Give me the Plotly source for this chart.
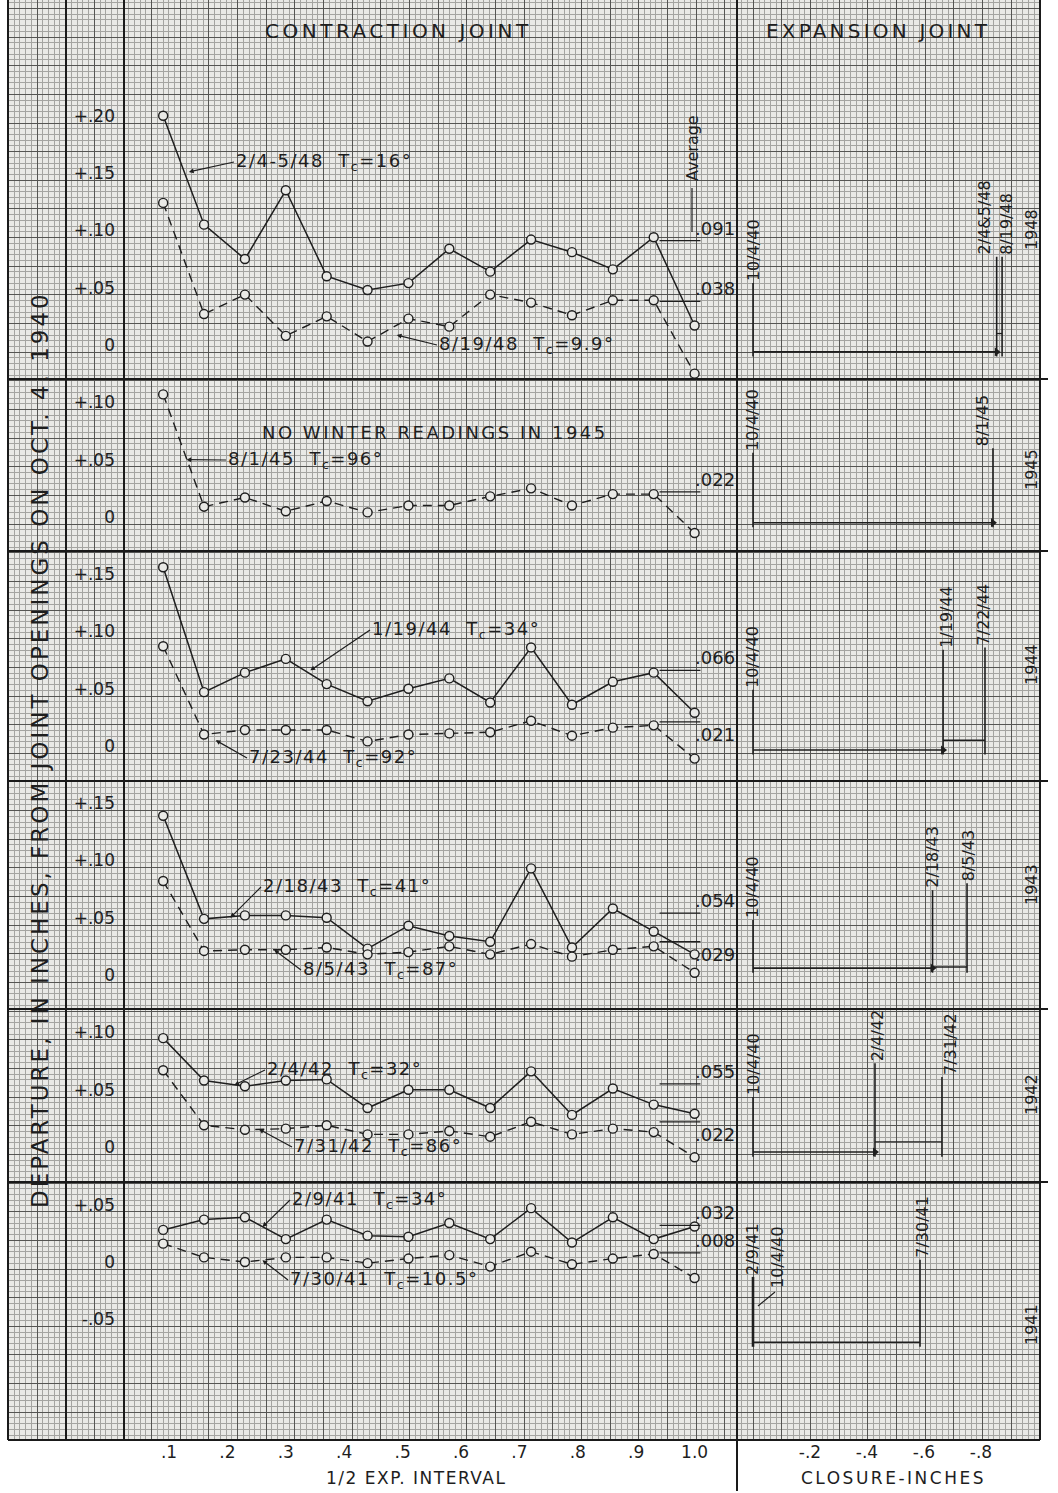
import plotly.graph_objects as go

W, H = 1058, 1493

# ---------------- data ----------------
# joint positions along half the expansion interval
positions = [0.09, 0.16, 0.23, 0.30, 0.37, 0.44, 0.51, 0.58, 0.65, 0.72, 0.79, 0.86, 0.93, 1.00]

years = ["1948", "1945", "1944", "1943", "1942", "1941"]

# winter readings (solid lines), departure in inches
winter_dates = ["2/4-5/48", None, "1/19/44", "2/18/43", "2/4/42", "2/9/41"]
winter_tc = ["16°", None, "34°", "41°", "32°", "34°"]
winter_1948 = [0.200, 0.105, 0.075, 0.135, 0.060, 0.048, 0.054, 0.084, 0.064, 0.092, 0.081, 0.066, 0.094, 0.017]
winter_1944 = [0.156, 0.047, 0.064, 0.076, 0.054, 0.039, 0.050, 0.059, 0.038, 0.086, 0.036, 0.056, 0.064, 0.029]
winter_1943 = [0.139, 0.049, 0.052, 0.052, 0.050, 0.023, 0.043, 0.034, 0.029, 0.093, 0.024, 0.058, 0.038, 0.018]
winter_1942 = [0.095, 0.058, 0.053, 0.058, 0.059, 0.034, 0.050, 0.050, 0.034, 0.066, 0.028, 0.051, 0.037, 0.029]
winter_1941 = [0.028, 0.037, 0.039, 0.020, 0.037, 0.023, 0.022, 0.034, 0.020, 0.047, 0.017, 0.039, 0.020, 0.031]

# summer readings (dashed lines)
summer_dates = ["8/19/48", "8/1/45", "7/23/44", "8/5/43", "7/31/42", "7/30/41"]
summer_tc = ["9.9°", "96°", "92°", "87°", "86°", "10.5°"]
summer_1948 = [0.124, 0.027, 0.044, 0.008, 0.025, 0.003, 0.023, 0.016, 0.044, 0.037, 0.026, 0.039, 0.039, -0.025]
summer_1945 = [0.107, 0.009, 0.017, 0.005, 0.014, 0.004, 0.010, 0.010, 0.018, 0.025, 0.010, 0.020, 0.020, -0.014]
summer_1944 = [0.087, 0.010, 0.014, 0.014, 0.014, 0.004, 0.010, 0.011, 0.012, 0.022, 0.009, 0.016, 0.018, -0.011]
summer_1943 = [0.082, 0.021, 0.022, 0.022, 0.024, 0.018, 0.020, 0.025, 0.018, 0.027, 0.016, 0.022, 0.025, 0.002]
summer_1942 = [0.067, 0.019, 0.015, 0.016, 0.019, 0.011, 0.011, 0.014, 0.009, 0.022, 0.011, 0.016, 0.013, -0.009]
summer_1941 = [0.016, 0.004, 0.000, 0.004, 0.004, -0.001, 0.003, 0.006, -0.004, 0.009, -0.002, 0.003, 0.007, -0.014]

winter_series = [winter_1948, None, winter_1944, winter_1943, winter_1942, winter_1941]
summer_series = [summer_1948, summer_1945, summer_1944, summer_1943, summer_1942, summer_1941]

winter_avg = [0.091, None, 0.066, 0.054, 0.055, 0.032]
summer_avg = [0.038, 0.022, 0.021, 0.029, 0.022, 0.008]

# expansion joint closure (inches) relative to 10/4/40
exp_winter_dates = ["2/4&5/48", None, "1/19/44", "2/18/43", "2/4/42", "2/9/41"]
exp_winter_closure = [-0.855, None, -0.667, -0.630, -0.428, 0.0]
exp_summer_dates = ["8/19/48", "8/1/45", "7/22/44", "8/5/43", "7/31/42", "7/30/41"]
exp_summer_closure = [-0.874, -0.842, -0.814, -0.751, -0.663, -0.586]

contraction_ticks = [0.1, 0.2, 0.3, 0.4, 0.5, 0.6, 0.7, 0.8, 0.9, 1.0]
contraction_tick_text = [".1", ".2", ".3", ".4", ".5", ".6", ".7", ".8", ".9", "1.0"]
closure_ticks = [-0.2, -0.4, -0.6, -0.8]
closure_tick_text = ["-.2", "-.4", "-.6", "-.8"]
closure_end_tick = -1.0
closure_end_text = "-1.0"

panel_yticks = [
    [0, 0.05, 0.10, 0.15, 0.20],
    [0, 0.05, 0.10],
    [0, 0.05, 0.10, 0.15],
    [0, 0.05, 0.10, 0.15],
    [0, 0.05, 0.10],
    [-0.05, 0, 0.05],
]
panel_ytick_text = [
    ["0", "+.05", "+.10", "+.15", "+.20"],
    ["0", "+.05", "+.10"],
    ["0", "+.05", "+.10", "+.15"],
    ["0", "+.05", "+.10", "+.15"],
    ["0", "+.05", "+.10"],
    ["-.05", "0", "+.05"],
]

# ---------------- layout geometry (pixels) ----------------
PANEL_TOP = [0, 379, 551, 781, 1009, 1182]
PANEL_BOT = [379, 551, 781, 1009, 1182, 1440]
PANEL_ZERO = [345, 517, 746, 975, 1147, 1262]
PX_PER_IN_Y = 1146.0

CX0, CX1, CX_ZERO, CX_SCALE = 116, 737, 110.6, 584.0
EX0, EX1, EX_ZERO, EX_SCALE = 737, 1040, 753, 285.0

GRID_X0, GRID_X1, GRID_Y1 = 8, 1040, 1440

INK = "#1e1e1e"
PAPER = "#e9e9e6"
FONT = "DejaVu Sans"


def pxf(x):
    return x / W


def pyf(y):
    return 1 - y / H


def cx(px):
    return (px - CX_ZERO) / CX_SCALE


def ex(px):
    return (EX_ZERO - px) / EX_SCALE


def py(i, px):
    return (PANEL_ZERO[i] - px) / PX_PER_IN_Y


def spaced(text, px):
    return f'<span style="letter-spacing:{px}px">{text}</span>'


# expansion schematic levels, per panel, in panel units
EXP_BASE = [-0.006, -0.005, -0.0035, 0.006, -0.0044, -0.070]
EXP_REF_TOP = [0.054, 0.056, 0.049, 0.048, 0.0436, -0.013]
EXP_WINTER_TOP = [0.077, None, 0.084, 0.074, 0.073, -0.013]
EXP_SUMMER_TOP = [0.077, 0.060, 0.086, 0.080, 0.061, 0.002]
EXP_STEP = [0.010, None, 0.005, 0.007, 0.0044, None]
EXP_WINTER_SHIFT = [-12, 0, 4, 0, 2, 0]
EXP_SUMMER_SHIFT = [5, -11, -2, 1, 8, 3]
YEAR_LABEL_Y = [230, 470, 665, 885, 1095, 1325]

# series label placement: (tail px x, tail px y, head x, head y)
WINTER_LABEL = [(234, 162, 0.134, 0.151), None, (370, 630, 0.342, 0.066),
                (261, 887, 0.205, 0.050), (265, 1070, 0.212, 0.054), (290, 1200, 0.26, 0.0306)]
SUMMER_LABEL = [(437, 345, 0.49, 0.0087), (226, 460, 0.13, 0.050), (247, 758, 0.18, 0.005),
                (301, 970, 0.28, 0.022), (292, 1147, 0.254, 0.0155), (288, 1280, 0.26, 0.0016)]
AVG_W_SIDE = ["bottom", None, "bottom", "bottom", "bottom", "bottom"]
AVG_S_SIDE = ["bottom", "bottom", "top", "top", "top", "bottom"]

fig = go.Figure()

# graph-paper background subplot
fig.add_trace(go.Scatter(x=[None], y=[None], xaxis="x", yaxis="y", showlegend=False, hoverinfo="skip"))

grid_axis = dict(showticklabels=False, ticks="", zeroline=False, showgrid=True, gridcolor="#555553",
                 gridwidth=1, tick0=8.4, dtick=28.65, fixedrange=True,
                 minor=dict(tick0=8.4, dtick=5.73, showgrid=True, gridcolor="#a4a4a1", gridwidth=1))

layout = dict(
    width=W, height=H, margin=dict(l=0, r=0, t=0, b=0), autosize=False,
    paper_bgcolor="white", plot_bgcolor="rgba(0,0,0,0)", showlegend=False,
    font=dict(family=FONT, color=INK, size=17),
    xaxis=dict(domain=[pxf(GRID_X0), pxf(GRID_X1)], range=[GRID_X0, GRID_X1], **grid_axis),
    yaxis=dict(domain=[pyf(GRID_Y1), 1], range=[GRID_Y1, 0], **grid_axis),
)

annotations = []
shapes = [dict(type="rect", xref="paper", yref="paper", x0=pxf(GRID_X0), x1=pxf(GRID_X1),
               y0=pyf(GRID_Y1), y1=1, fillcolor=PAPER, line=dict(width=0), layer="below")]

line_style = dict(color=INK, width=1.5)
marker_style = dict(symbol="circle", size=9, color=PAPER, line=dict(color=INK, width=1.4))
label_font = dict(family=FONT, size=18, color=INK)
tick_font = dict(family=FONT, size=17, color=INK)

for i in range(6):
    xc, xe, ya = f"x{2 * i + 2}", f"x{2 * i + 3}", f"y{i + 2}"
    last = i == 5
    layout[f"yaxis{i + 2}"] = dict(
        domain=[pyf(PANEL_BOT[i]), pyf(PANEL_TOP[i])],
        range=[py(i, PANEL_BOT[i]), py(i, PANEL_TOP[i])],
        anchor=xc, tickvals=panel_yticks[i], ticktext=panel_ytick_text[i],
        showgrid=False, zeroline=False, showline=False, ticks="",
        tickfont=tick_font, fixedrange=True)
    layout[f"xaxis{2 * i + 2}"] = dict(
        domain=[pxf(CX0), pxf(CX1)], range=[cx(CX0), cx(CX1)], anchor=ya,
        showgrid=False, zeroline=False, showline=False, ticks="",
        showticklabels=last, tickvals=contraction_ticks, ticktext=contraction_tick_text,
        tickfont=tick_font, fixedrange=True)
    layout[f"xaxis{2 * i + 3}"] = dict(
        domain=[pxf(EX0), pxf(EX1)], range=[ex(EX0), ex(EX1)], anchor=ya,
        showgrid=False, zeroline=False, showline=False, ticks="",
        showticklabels=last, tickvals=closure_ticks, ticktext=closure_tick_text,
        tickfont=tick_font, fixedrange=True)

    # contraction joint departures
    if winter_series[i] is not None:
        fig.add_trace(go.Scatter(x=positions, y=winter_series[i], mode="lines+markers",
                                 line=line_style, marker=marker_style, xaxis=xc, yaxis=ya,
                                 cliponaxis=False, hoverinfo="skip"))
    fig.add_trace(go.Scatter(x=positions, y=summer_series[i], mode="lines+markers",
                             line=dict(color=INK, width=1.4, dash="9px,6px"), marker=marker_style,
                             xaxis=xc, yaxis=ya, cliponaxis=False, hoverinfo="skip"))

    # averages
    for avg, side in ((winter_avg[i], AVG_W_SIDE[i]), (summer_avg[i], AVG_S_SIDE[i])):
        if avg is None:
            continue
        fig.add_trace(go.Scatter(x=[0.94, 1.01], y=[avg, avg], mode="lines", line=dict(color=INK, width=1.3),
                                 xaxis=xc, yaxis=ya, hoverinfo="skip"))
        annotations.append(dict(x=1.035, y=avg, xref=xc, yref=ya, text=f"{avg:.3f}"[1:],
                                showarrow=False, xanchor="center", yanchor=side, font=label_font))

    # series labels with leaders
    for spec, date, tc in ((WINTER_LABEL[i], winter_dates[i], winter_tc[i]),
                           (SUMMER_LABEL[i], summer_dates[i], summer_tc[i])):
        if spec is None or date is None:
            continue
        tx, ty, hx, hy = spec
        head_px_x = CX_ZERO + hx * CX_SCALE
        head_px_y = PANEL_ZERO[i] - hy * PX_PER_IN_Y
        annotations.append(dict(x=hx, y=hy, xref=xc, yref=ya, ax=tx - head_px_x, ay=ty - head_px_y,
                                text=spaced(f"{date}  T<sub>c</sub>={tc}", 1.5), showarrow=True, arrowhead=2,
                                arrowsize=0.8, arrowwidth=1.2, arrowcolor=INK, standoff=0,
                                xanchor="left", yanchor="middle", font=label_font))

    # expansion joint closure schematic
    base = EXP_BASE[i]
    w, s = exp_winter_closure[i], exp_summer_closure[i]
    tip = w if (w is not None and w != 0.0) else s
    exp_line = dict(color=INK, width=1.6)
    fig.add_trace(go.Scatter(x=[0, tip], y=[base, base], mode="lines", line=exp_line,
                             xaxis=xe, yaxis=ya, hoverinfo="skip"))
    if w != 0.0:
        fig.add_trace(go.Scatter(x=[tip], y=[base], mode="markers",
                                 marker=dict(symbol="triangle-right", size=8, color=INK),
                                 xaxis=xe, yaxis=ya, hoverinfo="skip"))
    fig.add_trace(go.Scatter(x=[0, 0], y=[base - 0.004, EXP_REF_TOP[i]], mode="lines",
                             line=dict(color=INK, width=2.6 if w == 0.0 else 1.6),
                             xaxis=xe, yaxis=ya, hoverinfo="skip"))
    if w is not None and w != 0.0:
        fig.add_trace(go.Scatter(x=[w, w], y=[base - 0.004, EXP_WINTER_TOP[i]], mode="lines",
                                 line=exp_line, xaxis=xe, yaxis=ya, hoverinfo="skip"))
        fig.add_trace(go.Scatter(x=[w, s], y=[EXP_STEP[i], EXP_STEP[i]], mode="lines",
                                 line=dict(color=INK, width=1.3), xaxis=xe, yaxis=ya, hoverinfo="skip"))
    fig.add_trace(go.Scatter(x=[s, s], y=[base - 0.004, EXP_SUMMER_TOP[i]], mode="lines",
                             line=exp_line, xaxis=xe, yaxis=ya, hoverinfo="skip"))

    rot = dict(showarrow=False, textangle=-90, xanchor="center", yanchor="bottom",
               xref=xe, yref=ya, font=dict(family=FONT, size=16, color=INK))
    if w == 0.0:
        annotations.append(dict(x=0, y=EXP_WINTER_TOP[i], text=exp_winter_dates[i], **rot))
        annotations.append(dict(x=0, y=py(i, 1290), xshift=24, text="10/4/40", **rot))
        fig.add_trace(go.Scatter(x=[ex(775), ex(758)], y=[py(i, 1292), py(i, 1306)], mode="lines",
                                 line=dict(color=INK, width=1.1), xaxis=xe, yaxis=ya, hoverinfo="skip"))
    else:
        annotations.append(dict(x=0, y=EXP_REF_TOP[i], text="10/4/40", **rot))
        if w is not None:
            annotations.append(dict(x=w, y=EXP_WINTER_TOP[i], xshift=EXP_WINTER_SHIFT[i],
                                    text=exp_winter_dates[i], **rot))
    annotations.append(dict(x=s, y=EXP_SUMMER_TOP[i], xshift=EXP_SUMMER_SHIFT[i],
                            text=exp_summer_dates[i], **rot))
    annotations.append(dict(x=ex(1031), y=py(i, YEAR_LABEL_Y[i]), text=years[i], showarrow=False,
                            textangle=-90, xanchor="center", yanchor="middle", xref=xe, yref=ya,
                            font=dict(family=FONT, size=16, color=INK)))

# last closure tick label, kept inside the sheet edge
annotations.append(dict(x=closure_end_tick, y=py(5, 1455), xref="x13", yref="y7", text=closure_end_text,
                        showarrow=False, xanchor="center", yanchor="middle", xshift=-4,
                        font=dict(family=FONT, size=16, color=INK)))

# notes in the 1948 and 1945 panels
annotations.append(dict(x=cx(692), y=py(0, 148), xref="x2", yref="y2", text="Average", showarrow=False,
                        textangle=-90, xanchor="center", yanchor="middle",
                        font=dict(family=FONT, size=16, color=INK)))
fig.add_trace(go.Scatter(x=[cx(692), cx(692)], y=[py(0, 188), py(0, 232)], mode="lines",
                         line=dict(color=INK, width=1.2), xaxis="x2", yaxis="y2", hoverinfo="skip"))
annotations.append(dict(x=cx(435), y=py(1, 432), xref="x4", yref="y3",
                        text=spaced("NO WINTER READINGS IN 1945", 2.5), showarrow=False,
                        xanchor="center", yanchor="middle", font=dict(family=FONT, size=18, color=INK)))

# titles
title_font = dict(family=FONT, size=20, color=INK)
annotations += [
    dict(x=pxf(398), y=pyf(31), xref="paper", yref="paper", text=spaced("CONTRACTION JOINT", 3.5),
         showarrow=False, xanchor="center", yanchor="middle", font=title_font),
    dict(x=pxf(878), y=pyf(31), xref="paper", yref="paper", text=spaced("EXPANSION JOINT", 3.2),
         showarrow=False, xanchor="center", yanchor="middle", font=title_font),
    dict(x=pxf(40), y=pyf(750), xref="paper", yref="paper", textangle=-90,
         text=spaced("DEPARTURE, IN INCHES, FROM JOINT OPENINGS ON OCT. 4, 1940", 3.0), showarrow=False,
         xanchor="center", yanchor="middle", font=dict(family=FONT, size=23, color=INK)),
    dict(x=pxf(416), y=pyf(1478), xref="paper", yref="paper", text=spaced("1/2 EXP. INTERVAL", 1.5),
         showarrow=False, xanchor="center", yanchor="middle", font=dict(family=FONT, size=17, color=INK)),
    dict(x=pxf(893), y=pyf(1478), xref="paper", yref="paper", text=spaced("CLOSURE-INCHES", 2.5),
         showarrow=False, xanchor="center", yanchor="middle", font=dict(family=FONT, size=17, color=INK)),
]

# heavy rulings of the sheet
heavy = dict(color="#1a1a1a", width=2)
for x, y0, y1 in ((GRID_X0, 0, GRID_Y1), (66, 0, GRID_Y1), (124, 0, GRID_Y1), (737, 0, H - 2),
                  (GRID_X1, 0, GRID_Y1)):
    shapes.append(dict(type="line", xref="paper", yref="paper", x0=pxf(x), x1=pxf(x),
                       y0=pyf(y0), y1=pyf(y1), line=heavy, layer="above"))
for y in PANEL_BOT[:-1]:
    shapes.append(dict(type="line", xref="paper", yref="paper", x0=pxf(GRID_X0), x1=pxf(1048),
                       y0=pyf(y), y1=pyf(y), line=heavy, layer="above"))
shapes.append(dict(type="line", xref="paper", yref="paper", x0=pxf(GRID_X0), x1=pxf(GRID_X1),
                   y0=pyf(GRID_Y1), y1=pyf(GRID_Y1), line=heavy, layer="above"))

layout["annotations"] = annotations
layout["shapes"] = shapes
fig.update_layout(**layout)
fig.write_html("out.html", config={"displayModeBar": False, "responsive": False})
